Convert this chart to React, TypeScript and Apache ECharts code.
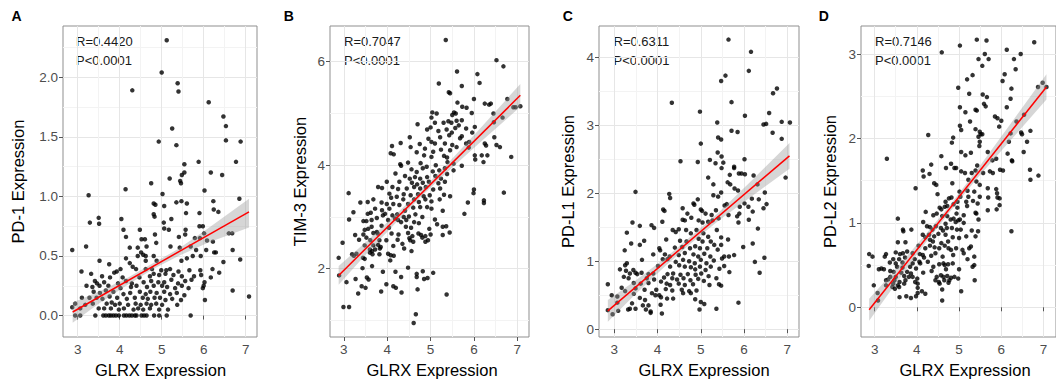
import React, { useEffect, useRef } from "react";
import * as echarts from "echarts";

// ---------- Data ----------
const pd1Points: number[][] = [
  [5.12,2.31],[5.0,2.04],[5.38,1.95],[5.4,1.88],[4.3,1.89],[6.12,1.79],[6.47,1.67],[6.53,1.59],[5.25,1.57],[6.53,1.47],[4.93,1.46],[6.88,1.46],[5.35,1.43],[6.77,1.29],[5.88,1.29],[5.54,1.27],[5.54,1.2],[5.48,1.18],[6.17,1.2],[6.44,1.18],[5.19,1.15],[5.44,1.13],[5.46,1.11],[4.75,1.11],[4.14,1.06],[6.02,1.05],[5.02,1.02],[3.26,1.01],[6.85,0.98],[5.47,0.96],[5.35,0.95],[4.81,0.94],[4.85,0.93],[6.23,0.96],[5.6,0.94],[5.06,0.92],[6.24,0.89],[6.35,0.87],[5.58,0.86],[5.9,0.86],[4.81,0.85],[4.83,0.83],[3.5,0.82],[3.51,0.77],[3.29,0.78],[4.04,0.81],[5.23,0.81],[5.05,0.78],[4.09,0.72],[4.48,0.72],[5.06,0.73],[5.17,0.72],[5.57,0.72],[5.9,0.75],[5.98,0.75],[6.01,0.69],[6.6,0.69],[6.68,0.69],[5.56,0.68],[4.15,0.66],[4.52,0.64],[4.6,0.64],[4.84,0.68],[5.41,0.66],[5.79,0.65],[5.91,0.65],[6.08,0.63],[6.22,0.62],[3.2,0.58],[4.24,0.57],[4.43,0.57],[4.64,0.58],[4.87,0.61],[5.21,0.58],[5.43,0.57],[5.69,0.58],[5.82,0.55],[6.06,0.55],[6.25,0.53],[6.29,0.53],[6.69,0.55],[2.87,0.55],[4.15,0.48],[4.51,0.53],[4.56,0.51],[4.62,0.5],[4.43,0.5],[4.81,0.5],[4.88,0.46],[3.52,0.46],[3.75,0.43],[4.24,0.44],[4.31,0.41],[4.62,0.46],[5.47,0.46],[5.6,0.48],[5.74,0.5],[5.93,0.5],[6.47,0.45],[6.87,0.47],
  [3.93,0.37],[3.87,0.36],[3.09,0.37],[3.32,0.35],[4.02,0.39],[4.39,0.39],[4.62,0.39],[4.77,0.39],[4.99,0.38],[5.11,0.38],[5.2,0.39],[5.4,0.37],[5.66,0.38],[5.92,0.38],[6.21,0.39],[6.37,0.36],[3.58,0.33],[3.77,0.32],[4.07,0.32],[4.15,0.29],[4.47,0.32],[4.72,0.33],[4.81,0.35],[4.94,0.34],[5.09,0.35],[5.28,0.34],[5.48,0.33],[5.77,0.33],[5.94,0.34],[6.17,0.32],[3.41,0.29],[3.46,0.27],[3.63,0.28],[3.96,0.27],[4.29,0.27],[4.57,0.28],[4.75,0.29],[4.92,0.28],[5.06,0.28],[5.23,0.3],[5.39,0.27],[5.56,0.29],[5.71,0.3],[6.02,0.28],[3.21,0.25],[3.35,0.24],[3.52,0.25],[3.73,0.25],[4.02,0.23],[4.27,0.24],[4.4,0.25],[4.65,0.24],[4.81,0.25],[5.01,0.25],[5.13,0.24],[5.32,0.23],[5.48,0.25],[5.64,0.23],[5.98,0.23],[6.0,0.25],[6.69,0.21],[7.08,0.16],[3.38,0.2],[3.53,0.19],[3.67,0.21],[3.85,0.2],[4.09,0.18],[4.25,0.19],[4.48,0.2],[4.62,0.18],[4.73,0.2],[4.88,0.19],[5.06,0.2],[5.2,0.18],[5.36,0.19],[5.54,0.17],[3.1,0.15],[3.28,0.15],[3.45,0.15],[3.59,0.14],[3.76,0.16],[3.94,0.15],[4.17,0.14],[4.36,0.15],[4.55,0.15],[4.67,0.14],[4.83,0.15],[4.96,0.15],[5.09,0.13],[5.25,0.14],[5.46,0.13],[6.03,0.13],[2.94,0.1],[3.18,0.09],[3.36,0.1],[3.69,0.1],[3.81,0.11],[3.89,0.09],[4.0,0.1],[4.2,0.09],[4.38,0.1],[4.5,0.09],[4.64,0.1],[4.75,0.09],[4.87,0.1],[5.01,0.09],[5.37,0.09],[2.87,0.07],[3.06,0.06],[3.5,0.06],[3.63,0.06],[3.79,0.06],[3.98,0.05],[4.1,0.06],[4.33,0.05],[4.44,0.06],[4.56,0.05],[4.72,0.06],[4.94,0.05],[5.15,0.05],
  [2.94,0],[3.06,0],[3.42,0],[3.61,0],[3.67,0],[3.74,0],[3.79,0],[3.85,0],[3.91,0],[3.98,0],[4.1,0],[4.16,0],[4.23,0],[4.29,0],[4.36,0],[4.4,0],[4.52,0],[4.58,0],[4.64,0],[4.82,0],[4.94,0],[5.12,0],[5.69,0]
];

const tim3Points: number[][] = [
  [5.35,6.42],[6.52,6.03],[6.68,5.91],[5.61,5.81],[6.08,5.76],[5.19,5.58],[6.13,5.59],[5.72,5.53],[5.42,5.41],[5.45,5.39],[6.0,5.28],[6.77,5.28],[6.25,5.19],[6.35,5.17],[6.39,5.19],[5.62,5.21],[6.91,5.12],[6.96,5.12],[7.07,5.14],[5.83,5.11],[5.73,5.13],[5.04,5.02],[5.14,5.0],[5.95,5.01],[5.02,4.92],[6.45,5.0],[5.54,5.02],[5.5,4.97],[5.58,5.0],[6.66,4.92],[5.41,4.85],[5.48,4.82],[5.6,4.86],[6.46,4.83],[4.7,4.79],[5.1,4.82],[5.3,4.82],[5.72,4.87],[6.02,4.74],[5.0,4.73],[5.57,4.72],[5.65,4.77],[5.82,4.71],[4.92,4.69],[5.18,4.66],[5.37,4.69],[5.49,4.63],[5.72,4.56],[5.96,4.63],[4.95,4.51],[4.52,4.54],[5.22,4.54],[5.43,4.58],[5.68,4.52],[5.89,4.45],[5.82,4.42],[6.47,4.54],[6.25,4.42],[6.28,4.38],[6.52,4.39],[6.6,4.35],[4.31,4.43],[5.02,4.45],[5.1,4.42],[5.33,4.42],[5.5,4.39],[5.6,4.35],[4.11,4.37],[4.54,4.35],[4.75,4.41],[4.87,4.32],[5.06,4.26],[5.24,4.3],[5.45,4.29],[5.88,4.34],[6.02,4.19],[6.18,4.19],[6.31,4.19],[6.86,4.16],[4.08,4.23],[4.15,4.21],[4.68,4.25],[4.85,4.19],[5.02,4.16],[5.31,4.18],[5.38,4.15],[6.03,4.11],[6.22,4.06],[4.3,4.02],[4.32,3.99],[4.48,4.05],[4.77,4.04],[4.91,3.97],[5.12,4.0],[5.39,4.06],[5.53,4.03],[5.72,3.99],[4.56,3.92],[4.68,3.87],[4.82,3.94],[5.05,3.88],[5.2,3.9],[5.33,3.94],[5.53,3.9],[4.19,3.84],[4.41,3.79],[4.52,3.74],[4.64,3.77],[4.76,3.74],[4.92,3.77],[5.11,3.79],[5.24,3.74],[5.38,3.83],[3.99,3.68],[4.28,3.68],[4.57,3.66],[4.69,3.63],[4.82,3.66],[4.96,3.68],[5.18,3.65],[5.33,3.68],[3.88,3.56],[3.79,3.58],[4.12,3.58],[4.25,3.54],[4.45,3.55],[4.62,3.58],[4.76,3.55],[4.89,3.58],[5.06,3.53],[5.22,3.55],[6.0,3.53],[5.99,3.46],[6.69,3.47],[3.11,3.46],[4.05,3.45],[4.38,3.44],[4.54,3.42],[4.71,3.44],[4.84,3.4],[4.98,3.42],[5.31,3.43],[5.45,3.4],[3.68,3.34],[4.09,3.37],[4.22,3.39],[4.37,3.34],[4.62,3.34],[4.73,3.29],[4.88,3.34],[5.02,3.3],[5.21,3.34],[6.23,3.32],[6.23,3.27],[5.86,3.28],[3.38,3.28],[3.55,3.29],[3.87,3.28],[3.99,3.25],[4.14,3.25],[4.28,3.23],[4.48,3.25],[4.6,3.18],[4.76,3.19],[4.92,3.19],[5.02,3.16],[3.72,3.16],[3.88,3.13],[4.05,3.16],[4.41,3.12],[3.22,3.09],[3.55,3.06],[3.62,3.08],[3.9,3.03],[3.95,3.06],[4.12,3.03],[4.23,3.05],[4.38,3.0],[4.5,3.01],[4.65,3.05],[4.81,3.0],[5.28,3.12],[5.78,3.06],[3.12,2.95],[3.45,2.92],[3.52,2.92],[3.64,2.94],[3.76,2.98],[4.02,2.94],[4.18,2.97],[4.25,2.94],[4.32,2.9],[4.44,2.94],[4.62,2.9],[4.73,2.88],[5.1,2.95],[3.48,2.75],[3.56,2.77],[3.64,2.81],[3.87,2.83],[4.04,2.79],[4.43,2.81],[4.55,2.79],[4.97,2.77],[5.15,2.86],[5.28,2.81],[5.36,2.82],[3.26,2.65],[3.45,2.66],[3.68,2.69],[3.76,2.71],[3.78,2.68],[4.1,2.68],[4.26,2.66],[4.48,2.69],[4.58,2.63],[4.72,2.68],[4.78,2.65],[4.88,2.63],[5.0,2.66],[5.44,2.7],[5.28,2.65],[3.35,2.56],[3.52,2.6],[3.61,2.55],[3.82,2.55],[3.98,2.55],[4.24,2.56],[4.51,2.59],[4.53,2.55],[4.81,2.6],[4.94,2.55],[4.35,2.48],[4.6,2.52],[4.88,2.52],[3.48,2.45],[3.68,2.45],[3.79,2.46],[3.85,2.42],[4.14,2.44],[4.39,2.39],[4.56,2.34],[3.6,2.37],[3.65,2.34],[3.72,2.37],[3.83,2.39],[3.6,2.31],[3.66,2.28],[3.82,2.28],[4.02,2.29],[4.08,2.26],[4.15,2.25],[3.19,2.28],[3.23,2.25],[3.29,2.29],[3.44,2.21],[3.48,2.19],[2.88,2.21],[2.97,2.5],[3.43,2.01],[3.65,2.05],[4.07,2.16],[4.48,2.02],[4.19,1.94],[3.9,1.94],[4.82,1.95],[4.68,1.9],[4.68,1.84],[5.06,1.92],[4.32,1.84],[2.89,1.87],[3.06,1.74],[3.27,1.8],[3.53,1.83],[3.57,1.79],[4.85,1.8],[4.93,1.82],[3.98,1.7],[4.14,1.66],[4.2,1.63],[3.41,1.66],[3.5,1.63],[3.33,1.52],[3.86,1.56],[4.33,1.54],[4.7,1.6],[5.37,1.5],[2.99,1.26],[3.12,1.26],[4.66,1.12],[4.61,0.95]
];

const pdl1Points: number[][] = [
  [5.64,4.26],[6.16,4.08],[6.11,3.8],[5.57,3.73],[5.47,3.65],[6.76,3.54],[6.67,3.47],[5.71,3.34],[4.33,3.33],[4.98,3.2],[6.58,3.18],[6.02,3.14],[6.87,3.05],[7.06,3.04],[6.45,3.01],[6.51,3.02],[5.38,3.04],[5.71,2.92],[5.85,2.9],[6.66,2.89],[5.0,2.73],[5.4,2.82],[5.47,2.79],[6.87,2.8],[5.39,2.6],[5.48,2.54],[5.21,2.49],[6.01,2.5],[4.53,2.47],[4.93,2.46],[5.34,2.44],[5.52,2.45],[5.77,2.39],[5.77,2.37],[5.48,2.37],[5.88,2.29],[5.94,2.29],[6.02,2.28],[5.67,2.27],[5.62,2.16],[6.22,2.26],[6.96,2.23],[5.17,2.23],[5.68,2.13],[5.29,2.13],[6.31,2.13],[5.86,2.04],[5.78,2.07],[5.47,2.01],[3.49,2.02],[4.27,1.99],[4.29,1.93],[5.4,1.95],[5.29,1.97],[6.18,1.92],[4.93,1.91],[6.34,1.91],[5.55,1.82],[5.6,1.84],[4.83,1.85],[4.85,1.83],[6.48,2.01],[6.52,1.84],[6.45,1.78],[5.9,1.8],[6.01,1.85],[6.1,1.8],[6.2,1.73],[5.89,1.7],[5.84,1.66],[6.11,1.61],[5.87,1.57],[6.32,1.48],[5.0,1.76],[5.03,1.74],[4.13,1.76],[4.16,1.74],[4.58,1.78],[4.69,1.7],[5.11,1.7],[5.35,1.75],[5.64,1.68],[5.25,1.68],[4.58,1.61],[4.63,1.6],[4.78,1.64],[4.95,1.6],[5.04,1.57],[5.17,1.58],[5.27,1.6],[5.41,1.63],[3.42,1.57],[3.86,1.53],[3.92,1.49],[3.59,1.52],[4.11,1.58],[3.29,1.42],[4.35,1.46],[4.42,1.43],[4.49,1.47],[4.66,1.46],[4.77,1.41],[4.9,1.46],[5.06,1.41],[5.37,1.46],[5.47,1.35],[5.63,1.32],[5.17,1.36],[3.69,1.3],[3.39,1.26],[3.59,1.24],[4.2,1.32],[4.52,1.3],[4.67,1.29],[4.95,1.33],[5.04,1.29],[5.23,1.29],[5.31,1.24],[5.47,1.24],[4.04,1.19],[4.06,1.16],[4.4,1.2],[4.57,1.21],[4.75,1.19],[4.87,1.22],[4.98,1.19],[5.15,1.19],[5.39,1.17],[5.98,1.21],[6.2,1.26],[3.24,1.16],[3.9,1.1],[4.17,1.1],[4.28,1.07],[4.49,1.09],[4.63,1.12],[4.83,1.1],[4.94,1.07],[5.08,1.11],[5.22,1.07],[5.54,1.07],[5.65,1.07],[5.77,1.09],[6.47,1.05],[3.64,1.02],[4.12,1.03],[4.23,1.03],[4.42,0.99],[4.59,1.02],[4.73,1.0],[4.86,0.97],[5.0,1.02],[5.13,0.97],[5.3,1.01],[5.49,1.04],[6.25,0.99],[3.25,0.94],[3.29,0.97],[4.01,0.93],[4.29,0.92],[4.5,0.94],[4.63,0.92],[4.77,0.91],[4.87,0.88],[4.98,0.92],[5.11,0.87],[5.23,0.92],[5.43,0.89],[5.54,0.93],[3.13,0.88],[3.27,0.86],[3.44,0.87],[3.49,0.83],[3.53,0.81],[3.36,0.82],[3.63,0.83],[3.79,0.81],[3.9,0.82],[4.23,0.81],[4.36,0.82],[4.53,0.8],[4.7,0.81],[4.88,0.8],[5.01,0.82],[5.18,0.78],[5.66,0.84],[6.36,0.83],[3.22,0.77],[3.33,0.75],[3.75,0.75],[3.92,0.73],[4.15,0.76],[4.34,0.75],[4.45,0.73],[4.6,0.75],[4.76,0.72],[4.94,0.74],[5.07,0.71],[5.36,0.75],[3.45,0.68],[3.61,0.67],[3.79,0.68],[4.08,0.7],[4.21,0.67],[4.29,0.65],[4.49,0.67],[4.63,0.65],[4.82,0.66],[5.2,0.65],[5.42,0.66],[5.47,0.64],[2.85,0.66],[3.17,0.61],[3.25,0.56],[3.49,0.6],[3.7,0.58],[3.97,0.58],[4.19,0.59],[4.34,0.57],[4.56,0.58],[4.73,0.56],[4.9,0.57],[3.07,0.48],[2.94,0.5],[3.45,0.52],[3.59,0.46],[3.71,0.43],[3.87,0.53],[3.95,0.5],[4.04,0.5],[4.08,0.47],[4.22,0.45],[4.59,0.53],[4.77,0.53],[4.36,0.45],[4.87,0.44],[3.07,0.39],[3.41,0.38],[3.66,0.35],[3.79,0.35],[4.07,0.36],[5.0,0.4],[5.08,0.37],[5.87,0.39],[3.32,0.29],[3.36,0.3],[3.49,0.3],[3.73,0.29],[3.84,0.26],[4.97,0.29],[5.36,0.3],[2.85,0.28],[2.96,0.22],[3.09,0.27],[3.84,0.24],[4.1,0.23]
];

const pdl2Points: number[][] = [
  [5.42,3.17],[5.65,3.16],[6.78,3.14],[5.02,3.1],[4.59,3.02],[6.13,3.05],[6.46,3.0],[5.61,3.0],[5.46,2.94],[5.7,2.94],[6.3,2.94],[5.55,2.86],[6.34,2.82],[5.32,2.75],[5.19,2.7],[6.08,2.76],[6.03,2.68],[6.98,2.66],[6.87,2.61],[7.07,2.61],[4.98,2.6],[6.24,2.59],[5.24,2.53],[5.56,2.52],[5.66,2.49],[6.22,2.47],[5.59,2.41],[5.63,2.38],[5.02,2.37],[6.13,2.37],[5.39,2.34],[5.42,2.33],[5.15,2.31],[5.85,2.26],[6.54,2.28],[5.26,2.2],[5.91,2.24],[6.0,2.21],[6.36,2.2],[5.95,2.14],[5.02,2.15],[5.05,2.1],[5.39,2.11],[5.49,2.08],[6.69,2.09],[6.47,2.07],[6.49,2.05],[6.22,2.06],[4.27,2.04],[5.51,2.05],[5.55,2.05],[4.86,2.01],[4.83,1.95],[5.46,2.02],[5.49,1.96],[5.48,1.91],[6.18,1.96],[6.61,1.96],[5.68,1.84],[5.05,1.84],[6.53,1.84],[5.15,1.8],[5.28,1.83],[4.58,1.79],[3.29,1.76],[6.15,1.82],[5.88,1.76],[6.25,1.74],[6.26,1.73],[5.79,1.74],[5.43,1.68],[4.81,1.7],[4.34,1.69],[4.69,1.65],[4.89,1.65],[4.93,1.65],[5.97,1.63],[6.04,1.62],[5.73,1.61],[6.68,1.63],[6.69,1.51],[6.88,1.56],[4.14,1.62],[4.16,1.55],[4.3,1.58],[5.05,1.61],[5.14,1.59],[5.3,1.59],[5.39,1.62],[5.57,1.59],[5.8,1.59],[5.22,1.51],[5.41,1.49],[4.41,1.47],[4.46,1.45],[4.84,1.47],[5.49,1.45],[3.97,1.41],[4.49,1.34],[5.68,1.41],[5.88,1.4],[5.9,1.35],[5.01,1.37],[5.2,1.38],[5.36,1.37],[5.49,1.31],[4.76,1.29],[4.82,1.3],[5.03,1.31],[5.22,1.31],[5.69,1.3],[5.91,1.3],[5.96,1.29],[4.68,1.25],[4.87,1.22],[4.96,1.25],[5.17,1.25],[5.33,1.26],[4.54,1.18],[4.58,1.16],[4.66,1.19],[4.72,1.2],[4.96,1.18],[5.19,1.2],[5.44,1.23],[5.68,1.15],[5.89,1.16],[5.96,1.21],[5.39,1.12],[5.41,1.11],[4.21,1.13],[4.39,1.09],[4.47,1.11],[4.6,1.08],[4.72,1.08],[4.94,1.11],[5.11,1.09],[3.55,1.05],[4.8,1.04],[4.87,1.05],[5.02,1.04],[5.46,1.04],[4.92,1.01],[4.98,1.03],[4.15,1.01],[4.68,0.99],[5.11,1.0],[6.24,0.9],[3.87,0.92],[3.67,0.92],[3.68,0.9],[4.24,0.96],[4.31,0.95],[4.37,0.92],[4.45,0.96],[4.57,0.94],[4.62,0.91],[4.71,0.94],[4.83,0.94],[4.95,0.92],[5.04,0.92],[5.3,0.91],[5.45,0.9],[4.14,0.86],[4.2,0.83],[4.29,0.86],[4.41,0.84],[4.51,0.87],[4.68,0.86],[4.85,0.83],[5.0,0.82],[5.17,0.84],[5.39,0.84],[5.28,0.72],[4.31,0.8],[4.38,0.78],[4.58,0.76],[4.74,0.78],[3.55,0.77],[3.73,0.77],[4.04,0.73],[4.2,0.7],[4.31,0.73],[4.42,0.71],[4.53,0.7],[4.66,0.73],[4.75,0.7],[4.81,0.68],[4.93,0.7],[5.08,0.68],[5.24,0.7],[2.95,0.6],[2.87,0.63],[3.24,0.6],[3.27,0.63],[3.5,0.65],[3.6,0.63],[3.67,0.64],[3.77,0.66],[3.9,0.64],[4.07,0.63],[4.14,0.62],[4.17,0.59],[4.34,0.61],[4.44,0.64],[4.61,0.6],[4.86,0.62],[5.11,0.64],[5.2,0.57],[5.36,0.6],[3.44,0.57],[3.58,0.57],[3.72,0.59],[3.95,0.57],[4.06,0.54],[4.26,0.54],[3.36,0.53],[3.5,0.52],[3.66,0.53],[3.9,0.52],[4.08,0.52],[4.53,0.51],[4.63,0.52],[4.74,0.51],[4.85,0.52],[4.66,0.5],[2.86,0.49],[3.53,0.48],[3.66,0.47],[3.84,0.48],[3.98,0.46],[4.39,0.48],[4.69,0.45],[5.0,0.45],[5.32,0.48],[5.36,0.5],[3.1,0.45],[3.16,0.46],[3.22,0.45],[3.37,0.43],[3.45,0.42],[3.63,0.41],[3.77,0.42],[3.86,0.4],[4.15,0.41],[4.35,0.43],[3.37,0.36],[3.5,0.36],[3.7,0.37],[3.81,0.36],[3.9,0.36],[4.01,0.34],[4.47,0.36],[4.57,0.38],[4.63,0.36],[4.72,0.37],[4.81,0.35],[4.89,0.36],[4.98,0.34],[3.27,0.32],[3.32,0.33],[3.47,0.32],[3.59,0.3],[3.73,0.32],[3.96,0.3],[4.44,0.32],[4.52,0.3],[4.65,0.32],[4.77,0.32],[5.37,0.32],[2.98,0.26],[3.27,0.26],[3.44,0.28],[3.55,0.26],[3.7,0.28],[4.02,0.28],[4.54,0.28],[4.75,0.29],[3.42,0.24],[3.58,0.24],[4.02,0.23],[3.48,0.22],[3.07,0.17],[4.02,0.17],[4.12,0.19],[4.2,0.16],[3.98,0.13],[3.75,0.13],[3.86,0.11],[3.59,0.12],[3.08,0.08],[4.6,0.21],[5.05,0.19],[4.6,0.08]
];

// Fitted lines: [x, y] endpoints
const pd1Fit = [[2.88, 0.03], [7.08, 0.87]];
const tim3Fit = [[2.88, 1.87], [7.07, 5.35]];
const pdl1Fit = [[2.85, 0.27], [7.05, 2.55]];
const pdl2Fit = [[2.87, -0.03], [7.07, 2.61]];

// Confidence bands
const pd1BandX = [2.88, 3.5, 4.2, 4.8, 5.4, 6.1, 7.08];
const pd1BandLow = [-0.06, 0.1, 0.26, 0.39, 0.5, 0.61, 0.74];
const pd1BandHigh = [0.11, 0.2, 0.32, 0.44, 0.56, 0.73, 0.98];

const tim3BandX = [2.88, 3.5, 4.2, 4.8, 5.4, 6.1, 7.07];
const tim3BandLow = [1.69, 2.27, 2.89, 3.41, 3.88, 4.41, 5.13];
const tim3BandHigh = [2.05, 2.51, 3.05, 3.53, 4.04, 4.67, 5.57];

const pdl1BandX = [2.85, 3.5, 4.2, 4.8, 5.4, 6.1, 7.05];
const pdl1BandLow = [0.11, 0.52, 0.94, 1.28, 1.59, 1.92, 2.36];
const pdl1BandHigh = [0.43, 0.72, 1.06, 1.38, 1.71, 2.14, 2.74];

const pdl2BandX = [2.87, 3.5, 4.2, 4.8, 5.4, 6.1, 7.07];
const pdl2BandLow = [-0.16, 0.28, 0.76, 1.14, 1.51, 1.91, 2.46];
const pdl2BandHigh = [0.1, 0.45, 0.86, 1.22, 1.61, 2.09, 2.76];

const panelLetters = ["A", "B", "C", "D"];
const yTitles = ["PD-1 Expression", "TIM-3 Expression", "PD-L1 Expression", "PD-L2 Expression"];
const rLabels = ["R=0.4420", "R=0.7047", "R=0.6311", "R=0.7146"];
const pLabels = ["P<0.0001", "P<0.0001", "P<0.0001", "P<0.0001"];
const xTitle = "GLRX Expression";

// ---------- Layout ----------
const FONT = '"Liberation Sans", Arial, sans-serif';

const panels = [
  {
    pts: pd1Points, fit: pd1Fit, bx: pd1BandX, bl: pd1BandLow, bh: pd1BandHigh,
    box: { left: 63, top: 26, width: 194, height: 311 },
    xr: [2.65, 7.27], yr: [-0.18, 2.43], yMajor: 0.5, yMinor: 0.25, yDec: 1,
    letterX: 16.5, yTitleX: 18, textX: 76, xTitleX: 160.5,
  },
  {
    pts: tim3Points, fit: tim3Fit, bx: tim3BandX, bl: tim3BandLow, bh: tim3BandHigh,
    box: { left: 330, top: 26, width: 199, height: 311 },
    xr: [2.68, 7.27], yr: [0.68, 6.69], yMajor: 2, yMinor: 1, yDec: 0,
    letterX: 288.7, yTitleX: 299.5, textX: 344, xTitleX: 432,
  },
  {
    pts: pdl1Points, fit: pdl1Fit, bx: pdl1BandX, bl: pdl1BandLow, bh: pdl1BandHigh,
    box: { left: 599, top: 26, width: 200, height: 311 },
    xr: [2.646, 7.27], yr: [-0.115, 4.46], yMajor: 1, yMinor: 0.5, yDec: 0,
    letterX: 567.7, yTitleX: 568, textX: 613.5, xTitleX: 704,
  },
  {
    pts: pdl2Points, fit: pdl2Fit, bx: pdl2BandX, bl: pdl2BandLow, bh: pdl2BandHigh,
    box: { left: 861, top: 26, width: 200, height: 311 },
    xr: [2.677, 7.296], yr: [-0.352, 3.332], yMajor: 1, yMinor: 0.5, yDec: 0,
    letterX: 823.8, yTitleX: 830, textX: 875, xTitleX: 965,
  },
];

function minorAxis(gridIndex: number, range: number[], step: number, position: string) {
  return {
    type: "value", gridIndex, position, offset: 0, min: range[0], max: range[1],
    minInterval: step, maxInterval: step,
    axisLine: { show: false }, axisTick: { show: false }, axisLabel: { show: false },
    splitLine: { show: true, showMinLine: false, showMaxLine: false, lineStyle: { color: "#f3f3f3", width: 1 } },
  };
}

function majorAxis(gridIndex: number, range: number[], step: number, dec: number, position: string) {
  return {
    type: "value", gridIndex, position, offset: 0, min: range[0], max: range[1],
    minInterval: step, maxInterval: step,
    axisLine: { show: false },
    axisTick: { show: true, length: 4, lineStyle: { color: "#555", width: 1 } },
    axisLabel: {
      show: true, showMinLabel: false, showMaxLabel: false, margin: 5,
      fontSize: 13.5, color: "#4d4d4d", fontFamily: FONT,
      formatter: (v: number) => v.toFixed(dec),
    },
    splitLine: { show: true, showMinLine: false, showMaxLine: false, lineStyle: { color: "#e6e6e6", width: 1 } },
  };
}

function buildOption() {
  const grid: any[] = [];
  const xAxis: any[] = [];
  const yAxis: any[] = [];
  const series: any[] = [];
  const elements: any[] = [];

  panels.forEach((p, i) => {
    grid.push({ ...p.box, show: true, borderColor: "#8f8f8f", borderWidth: 1, backgroundColor: "transparent" });
    xAxis.push(minorAxis(i, p.xr, 0.5, "bottom"));
    xAxis.push(majorAxis(i, p.xr, 1, 0, "bottom"));
    yAxis.push(minorAxis(i, p.yr, p.yMinor, "left"));
    yAxis.push(majorAxis(i, p.yr, p.yMajor, p.yDec, "left"));
    const xi = 2 * i + 1;
    const yi = 2 * i + 1;

    series.push({
      type: "scatter", xAxisIndex: xi, yAxisIndex: yi, data: p.pts,
      symbol: "circle", symbolSize: 4.5, itemStyle: { color: "#000" }, z: 2, silent: true,
    });
    const bx = p.bx, bl = p.bl, bh = p.bh;
    series.push({
      type: "custom", xAxisIndex: xi, yAxisIndex: yi, z: 3, silent: true,
      data: [[bx[0], bl[0]]],
      renderItem: (_params: any, api: any) => {
        const upper = bx.map((x, k) => api.coord([x, bh[k]]));
        const lower = bx.map((x, k) => api.coord([x, bl[k]])).reverse();
        return {
          type: "polygon",
          shape: { points: upper.concat(lower) },
          style: { fill: "rgba(153,153,153,0.4)" },
        };
      },
    });
    series.push({
      type: "line", xAxisIndex: xi, yAxisIndex: yi, data: p.fit, z: 4, silent: true,
      symbol: "none", lineStyle: { color: "#ff0000", width: 1.5 },
    });

    // texts
    elements.push({
      type: "text", x: p.letterX, y: 15.5,
      style: { text: panelLetters[i], font: `bold 14px ${FONT}`, fill: "#000", textAlign: "center", textVerticalAlign: "middle", align: "center", verticalAlign: "middle" },
    });
    elements.push({
      type: "text", x: p.textX, y: 41.5,
      style: { text: rLabels[i], font: `13px ${FONT}`, fill: "#1a1a1a", textAlign: "left", textVerticalAlign: "middle", align: "left", verticalAlign: "middle" },
    });
    elements.push({
      type: "text", x: p.textX, y: 60,
      style: { text: pLabels[i], font: `13px ${FONT}`, fill: "#1a1a1a", textAlign: "left", textVerticalAlign: "middle", align: "left", verticalAlign: "middle" },
    });
    elements.push({
      type: "text", x: p.yTitleX, y: 181.5, rotation: Math.PI / 2,
      style: { text: yTitles[i], font: `16.5px ${FONT}`, fill: "#000", textAlign: "center", textVerticalAlign: "middle", align: "center", verticalAlign: "middle" },
    });
    elements.push({
      type: "text", x: p.xTitleX, y: 369.5,
      style: { text: xTitle, font: `16.5px ${FONT}`, fill: "#000", textAlign: "center", textVerticalAlign: "middle", align: "center", verticalAlign: "middle" },
    });
  });

  return {
    animation: false,
    backgroundColor: "#fff",
    textStyle: { fontFamily: FONT },
    grid, xAxis, yAxis, series,
    graphic: { elements },
  };
}

export default function App() {
  const ref = useRef<HTMLDivElement>(null);
  useEffect(() => {
    if (!ref.current) return;
    const chart = echarts.init(ref.current, undefined, { renderer: "svg" });
    chart.setOption(buildOption() as any);
    return () => chart.dispose();
  }, []);
  return (
    <div
      ref={ref}
      style={{ position: "fixed", left: 0, top: 0, width: 1056, height: 383, background: "#fff" }}
    />
  );
}
